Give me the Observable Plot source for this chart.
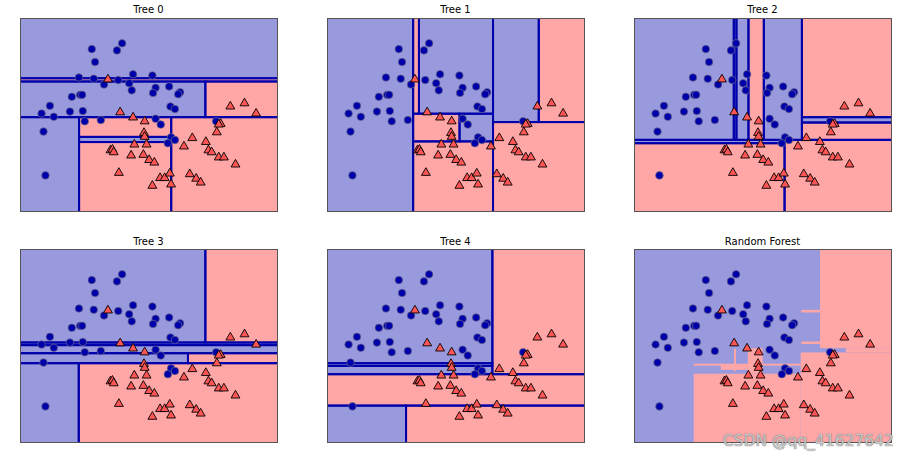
<!DOCTYPE html>
<html><head><meta charset="utf-8">
<script src="https://cdn.jsdelivr.net/npm/d3@7"></script>
<script src="https://cdn.jsdelivr.net/npm/@observablehq/plot@0.6"></script>
<style>
body{margin:0;background:#fff;font-family:"DejaVu Sans",sans-serif;}
#fig{position:relative;width:909px;height:460px;overflow:hidden;background:#fff;}
.panel{position:absolute;}
.title{position:absolute;width:257px;font-size:10px;line-height:12px;text-align:center;color:#000;font-family:"DejaVu Sans",sans-serif;}
.wm{position:absolute;left:723px;top:432px;font-size:15.5px;color:rgba(215,215,215,0.85);font-family:"DejaVu Sans",sans-serif;text-shadow:0 0 1px #777,0 0 1px #777;white-space:nowrap;}
</style></head><body><div id="fig"></div>
<script>
// ---- data (two-moons training points) ----
const class0X = [-0.39,0.08,0.00,-0.34,-0.59,-0.36,0.02,0.25,0.55,0.19,-0.20,0.23,0.60,0.56,0.81,0.98,0.95,-0.70,-0.57,-0.54,-1.04,-1.17,-0.98,-0.73,-0.53,-0.50,-0.25,0.83,0.90,0.60,0.68,-1.14,1.54,0.84,0.90,0.79,-1.11];
const class0Y = [1.52,1.61,1.50,1.32,1.08,1.06,1.04,1.13,1.11,0.99,0.97,0.88,0.92,0.84,0.94,0.85,0.82,0.78,0.81,0.81,0.64,0.52,0.47,0.55,0.56,0.40,0.42,0.63,0.59,0.44,0.35,0.24,0.40,0.15,0.11,0.06,-0.44];
const class1X = [-0.14,0.05,0.25,0.43,0.42,0.43,0.27,0.46,-0.10,-0.07,-0.05,0.22,0.41,0.50,0.58,0.03,0.67,0.74,0.82,0.84,0.55,1.13,1.23,1.30,1.04,1.17,1.38,1.42,1.47,1.58,1.66,1.84,1.55,1.61,1.58,1.76,1.98,2.16];
const class1Y = [1.05,0.54,0.46,0.40,0.22,0.16,0.04,0.04,-0.05,-0.04,-0.08,-0.13,-0.12,-0.20,-0.24,-0.40,-0.48,-0.48,-0.41,-0.58,-0.60,-0.42,-0.49,-0.55,0.01,0.14,0.08,-0.05,-0.08,-0.16,-0.16,-0.27,0.23,0.36,0.35,0.63,0.68,0.52];

// ---- tree leaves: [x1, x2, y1, y2, class] (±3 = beyond the plot edge) ----
const tree0 = [
 [-3,3,1.06,3,0],[-3,3,1.01,1.06,1],[-3,1.38,0.456,1.01,0],[1.38,3,0.456,1.01,1],
 [-3,-0.58,-3,0.456,0],[-0.58,0.85,0.15,0.456,1],[-0.58,0.85,0.07,0.15,0],[-0.58,0.85,-3,0.07,1],[0.85,3,-3,0.456,1]];
const tree1 = [
 [-3,-0.16,-3,3,0],[-0.16,-0.07,0.51,3,1],[-0.07,1.08,0.51,3,0],[-0.16,0.56,0.08,0.51,1],
 [0.56,1.08,0.08,0.51,0],[-0.16,1.08,-3,0.08,1],[1.08,1.79,0.38,3,0],[1.79,3,0.38,3,1],[1.08,3,-3,0.38,1]];
const tree2 = [
 [-3,0.052,0.104,3,0],[0.052,0.093,0.104,3,0],[0.093,0.28,0.104,3,0],[0.28,0.518,0.104,3,1],
 [0.518,1.109,0.104,3,0],[1.109,3,0.456,3,1],[1.109,3,0.373,0.456,0],[1.109,3,0.104,0.373,1],
 [-3,0.84,0.052,0.104,0],[-3,0.84,-3,0.052,1],[0.84,3,-3,0.104,1]];
const tree3 = [
 [-3,1.38,0.544,3,0],[1.38,3,0.544,3,1],[-3,3,0.503,0.544,0],[-3,3,0.378,0.503,0],
 [-3,1.11,0.223,0.378,0],[1.11,3,0.223,0.378,1],[-3,-0.585,-3,0.223,0],[-0.585,3,-3,0.223,1]];
const tree4 = [
 [-3,1.07,0.223,3,0],[1.07,3,0.052,3,1],[-3,1.07,0.181,0.223,0],[-3,1.07,0.052,0.181,0],
 [-3,3,-0.435,0.052,1],[-3,-0.27,-3,-0.435,0],[-0.27,3,-3,-0.435,1]];
// ---- random forest: red areas [x1, x2, y1, y2] on a blue background ----
const forestRed = [
 [1.39,3,0.456,3],[1.10,1.39,1.01,1.05],[1.10,1.39,0.52,0.56],[1.79,3,0.39,0.456],
 [1.09,3,-3,0.39],[-0.57,1.09,-3,0.06],[-0.57,1.09,0.185,0.215],[-0.15,0.27,0.12,0.21],
 [0.27,0.50,0.06,0.456],[0.055,0.085,0.10,0.45]];

const panelTitles = ["Tree 0","Tree 1","Tree 2","Tree 3","Tree 4","Random Forest"];
const xDomain = [-1.497, 2.492];
const yDomain = [-1.0, 1.995];

const BLUE_FILL = "#9999dd", RED_FILL = "#ffa6a6", LINE = "#0000aa";
const pts0 = class0X.map((x,i)=>({x, y:class0Y[i]}));
const pts1 = class1X.map((x,i)=>({x, y:class1Y[i]}));
const leaf = a => a.map(([x1,x2,y1,y2,c])=>({x1,x2,y1,y2,c}));

const fig = document.getElementById("fig");
const lefts = [20, 327, 634], tops = [18, 249];

function makePanel(i){
  const marks = [];
  if (i < 5) {
    const leaves = leaf([tree0,tree1,tree2,tree3,tree4][i]);
    marks.push(Plot.rect(leaves.filter(d=>d.c===0), {x1:"x1",x2:"x2",y1:"y1",y2:"y2",fill:BLUE_FILL,clip:true}));
    marks.push(Plot.rect(leaves.filter(d=>d.c===1), {x1:"x1",x2:"x2",y1:"y1",y2:"y2",fill:RED_FILL,clip:true}));
    marks.push(Plot.rect(leaves, {x1:"x1",x2:"x2",y1:"y1",y2:"y2",fill:"none",stroke:LINE,strokeWidth:2,clip:true}));
  } else {
    marks.push(Plot.rect([{x1:-3,x2:3,y1:-3,y2:3}], {x1:"x1",x2:"x2",y1:"y1",y2:"y2",fill:BLUE_FILL,clip:true}));
    const reds = forestRed.map(([x1,x2,y1,y2])=>({x1,x2,y1,y2}));
    marks.push(Plot.rect(reds, {x1:"x1",x2:"x2",y1:"y1",y2:"y2",fill:RED_FILL,clip:true}));
  }
  marks.push(Plot.dot(pts0, {x:"x",y:"y",r:3.8,fill:"#0000aa",stroke:"#6a6a8a",strokeWidth:0.7}));
  marks.push(Plot.dot(pts1, {x:"x",y:"y",r:3.3,symbol:"triangle",fill:"#ff5555",stroke:"#000",strokeWidth:0.9}));
  marks.push(Plot.frame({stroke:"#555",strokeWidth:1}));
  const svg = Plot.plot({
    width: 259, height: 195, margin: 1,
    x: {domain: xDomain, axis: null},
    y: {domain: yDomain, axis: null},
    style: {background: "transparent", overflow: "visible"},
    marks
  });
  const col = i % 3, row = Math.floor(i / 3);
  const wrap = document.createElement("div");
  wrap.className = "panel";
  wrap.style.left = (lefts[col]-1) + "px";
  wrap.style.top = (tops[row]-1) + "px";
  wrap.appendChild(svg);
  fig.appendChild(wrap);
  const t = document.createElement("div");
  t.className = "title";
  t.textContent = panelTitles[i];
  t.style.left = lefts[col] + "px";
  t.style.top = (row === 0 ? 4 : 236) + "px";
  fig.appendChild(t);
}
for (let i = 0; i < 6; i++) makePanel(i);
const wm = document.createElement("div");
wm.className = "wm";
wm.textContent = "CSDN @qq_41627642";
fig.appendChild(wm);
</script></body></html>
